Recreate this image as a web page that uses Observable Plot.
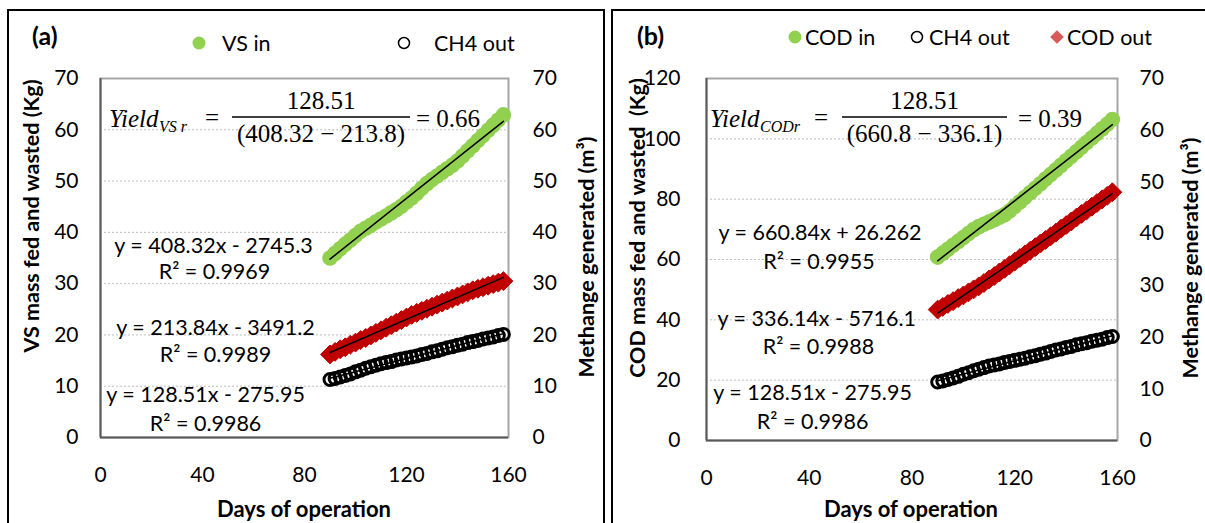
<!DOCTYPE html>
<html><head><meta charset="utf-8">
<script src="https://cdn.jsdelivr.net/npm/d3@7"></script>
<script src="https://cdn.jsdelivr.net/npm/@observablehq/plot@0.6"></script>
<style>
html,body{margin:0;padding:0;background:#fff;}
#wrap{position:relative;width:1205px;height:523px;overflow:hidden;background:#fff;}
.panel{position:absolute;top:0;width:600px;height:523px;}
.border{position:absolute;border:2px solid #000;box-sizing:border-box;pointer-events:none;}
</style></head><body>
<div id="wrap">
 <div class="panel" id="pa" style="left:0"></div>
 <div class="panel" id="pb" style="left:605px"></div>
 <div class="border" style="left:7px;top:9px;width:598px;height:600px"></div>
 <div class="border" style="left:611px;top:9px;width:700px;height:600px"></div>
</div>
<script>
// ---- data ----
const days = [90,92,94,96,98,100,102,104,106,108,110,112,114,116,118,120,122,124,126,128,130,132,134,136,138,140,142,144,146,148,150,152,154,156,158];
const vsIn  = [35.0,35.9,36.8,37.7,38.5,39.4,40.2,40.8,41.4,42.0,42.6,43.2,43.8,44.4,45.1,45.9,46.7,47.6,48.6,49.5,50.3,51.0,51.7,52.4,53.1,53.9,54.9,55.9,56.9,57.9,58.9,59.9,60.9,61.9,62.9];
const vsOut = [16.2,16.7,17.2,17.6,18.1,18.5,19.0,19.4,19.9,20.4,20.9,21.4,21.9,22.4,22.9,23.4,23.9,24.3,24.7,25.1,25.5,25.9,26.3,26.7,27.1,27.5,27.9,28.3,28.7,29.0,29.3,29.6,29.9,30.2,30.5];
const ch4Out = [11.3,11.5,11.8,12.1,12.4,12.8,13.1,13.5,13.8,14.1,14.4,14.6,14.8,15.1,15.3,15.5,15.7,15.9,16.2,16.4,16.7,16.9,17.2,17.5,17.7,18.0,18.2,18.5,18.7,18.9,19.2,19.4,19.6,19.9,20.1];
const codIn = [60.8,62.1,63.4,64.7,66.0,67.3,68.6,69.9,70.9,71.7,72.4,73.2,74.0,74.8,76.1,77.6,79.1,80.6,82.1,83.6,85.1,86.7,88.2,89.7,91.2,92.7,94.2,95.7,97.2,98.8,100.3,101.8,103.3,104.8,106.4];
const codOut = [43.4,44.3,45.3,46.2,47.2,48.1,49.1,50.1,51.1,52.2,53.4,54.5,55.7,56.9,58.1,59.3,60.5,61.7,62.9,64.1,65.3,66.5,67.7,68.9,70.2,71.4,72.6,73.9,75.1,76.3,77.5,78.7,79.9,81.1,82.3];

const xTicks = [0,40,80,120,160];
const yTicksA = [0,10,20,30,40,50,60,70];
const yTicksB = [0,20,40,60,80,100,120];
const yTicksRight = [0,10,20,30,40,50,60,70];

const eqA = ["y = 408.32x - 2745.3","R² = 0.9969","y = 213.84x - 3491.2","R² = 0.9989","y = 128.51x - 275.95","R² = 0.9986"];
const eqB = ["y = 660.84x + 26.262","R² = 0.9955","y = 336.14x - 5716.1","R² = 0.9988","y = 128.51x - 275.95","R² = 0.9986"];

const SANS = "Lato, sans-serif";
const SERIF = "'Liberation Serif', serif";
const GREEN = "#92D050", RED = "#C00000";

const rows = arr => days.map((d,i)=>({day:d, v:arr[i]}));

function decor(cfg){
  return () => {
    const g = d3.create("svg:g");
    const t = (x,y,s,o={}) => {
      const e = g.append("text").attr("x",x).attr("y",y).attr("dy","0.35em")
        .attr("font-family",o.family||SANS).attr("font-size",o.size||21)
        .attr("text-anchor",o.anchor||"start").attr("fill","#000").text(s);
      if(o.bold) e.attr("font-weight","bold");
      if(o.italic) e.attr("font-style","italic");
      if(o.rotate) e.attr("transform",`rotate(-90,${x},${y})`);
      return e;
    };
    // panel letter
    t(cfg.letter[0], 36, cfg.letter[1], {bold:true, size:25});
    // legend
    for(const L of cfg.legend){
      if(L.kind==="dot") g.append("circle").attr("cx",L.x).attr("cy",L.y).attr("r",6.5).attr("fill",GREEN);
      if(L.kind==="ring") g.append("circle").attr("cx",L.x).attr("cy",L.y).attr("r",5.5).attr("fill","none").attr("stroke","#000").attr("stroke-width",1.5);
      if(L.kind==="diamond") g.append("path").attr("d",d3.symbol(d3.symbolDiamond2, 120)()).attr("transform",`translate(${L.x},${L.y})`).attr("fill","#d65a5a");
      t(L.tx, L.y, L.label, {size:21.5});
    }
    // axis titles
    t(cfg.leftTitle[0], cfg.leftTitle[1], cfg.leftTitle[2], {bold:true, size:21.5, anchor:"middle", rotate:true});
    t(cfg.rightTitle[0], cfg.rightTitle[1], "Methange generated (m³)", {bold:true, size:21.5, anchor:"middle", rotate:true});
    t(cfg.xTitle, 509, "Days of operation", {bold:true, size:22, anchor:"middle"});
    // yield formula
    const f = cfg.formula;
    t(f.x0, 118, "Yield", {family:SERIF, italic:true, size:25});
    t(f.x0+50, 126, f.sub, {family:SERIF, italic:true, size:16});
    t(f.eq, 117, "=", {family:SERIF, size:25});
    g.append("line").attr("x1",f.b0).attr("x2",f.b1).attr("y1",117).attr("y2",117).attr("stroke","#000").attr("stroke-width",1.6);
    t((f.b0+f.b1)/2, 100, "128.51", {family:SERIF, size:25, anchor:"middle"});
    t((f.b0+f.b1)/2, 133, f.den, {family:SERIF, size:25, anchor:"middle"});
    t(f.res, 118, f.result, {family:SERIF, size:25});
    return g.node();
  };
}

function makePanel(o){
  const sc = o.rightScale;
  const ch4 = rows(ch4Out).map(d=>({day:d.day, v:d.v*sc}));
  return Plot.plot({
    width: 600, height: 523,
    marginLeft: o.ml, marginRight: o.mr, marginTop: 78, marginBottom: o.mb,
    x: {domain:[0,160]},
    y: {domain:o.yDomain},
    style: {fontFamily: SANS, fontSize: "21px", color:"#000", background:"transparent", overflow:"visible"},
    marks: [
      Plot.gridY(o.yTicks.filter(d=>d>0 && d<o.yDomain[1]), {stroke:"#bdbdbd", strokeOpacity:1, strokeDasharray:"2,2"}),
      Plot.frame({stroke:"#a6a6a6", strokeWidth:2}),
      Plot.ruleX([0], {stroke:"#5a5a5a", strokeWidth:2}),
      Plot.ruleY([0], {stroke:"#5a5a5a", strokeWidth:2}),
      Plot.axisX({ticks:xTicks, tickSize:0, tickPadding:30, label:null}),
      Plot.axisY({anchor:"left", ticks:o.yTicks, tickSize:0, tickPadding:o.lp, label:null}),
      Plot.axisY({anchor:"right", ticks:yTicksRight.map(d=>d*sc), tickFormat:d=>String(Math.round(d/sc)), tickSize:0, tickPadding:o.rp, label:null}),
      Plot.dot(rows(o.out), {x:"day", y:"v", symbol:"diamond2", r:8.5, fill:RED, stroke:RED, strokeWidth:1}),
      Plot.dot(ch4, {x:"day", y:"v", r:6, fill:"none", stroke:"#000", strokeWidth:3}),
      Plot.dot(rows(o.inn), {x:"day", y:"v", r:7.8, fill:GREEN}),
      Plot.linearRegressionY(rows(o.inn), {x:"day", y:"v", stroke:"#000", strokeWidth:1.5, ci:0}),
      Plot.linearRegressionY(rows(o.out), {x:"day", y:"v", stroke:"#000", strokeWidth:1.5, ci:0}),
      Plot.linearRegressionY(ch4, {x:"day", y:"v", stroke:"#000", strokeWidth:1.5, ci:0}),
      Plot.text(o.eq, {x:(d,i)=>o.eqPos[i][0], y:(d,i)=>o.eqPos[i][1], text:d=>d, fontSize:21.5, fill:"#000"}),
      decor(o.decor)
    ]
  });
}

document.getElementById("pa").append(makePanel({
  ml:100, mr:92, mb:86, yDomain:[0,70], yTicks:yTicksA, lp:22, rp:24, rightScale:1,
  inn:vsIn, out:vsOut, eq:eqA,
  eqPos:[[44.3,37.4],[44.7,32.2],[45.1,21.4],[45.1,16.0],[41.2,8.2],[41.2,2.7]],
  decor:{
    letter:[32,"(a)"],
    legend:[{kind:"dot",x:199,y:43,tx:222,label:"VS in"},{kind:"ring",x:404,y:43,tx:434,label:"CH4 out"}],
    leftTitle:[31,216,"VS mass fed and wasted (Kg)"], rightTitle:[586,257], xTitle:304,
    formula:{x0:109, sub:"VS r", eq:205, b0:232, b1:410, den:"(408.32 − 213.8)", res:416, result:"= 0.66"}
  }
}));

document.getElementById("pb").append(makePanel({
  ml:101, mr:88, mb:83, yDomain:[0,120], yTicks:yTicksB, lp:26, rp:22, rightScale:120/70,
  inn:codIn, out:codOut, eq:eqB,
  eqPos:[[44.2,68.6],[43.8,59.0],[42.9,40.1],[43.6,30.8],[41.3,15.6],[41.3,6.0]],
  decor:{
    letter:[32,"(b)"],
    legend:[{kind:"dot",x:190,y:37,tx:200,label:"COD in"},{kind:"ring",x:312,y:37,tx:324,label:"CH4 out"},{kind:"diamond",x:452,y:37,tx:462,label:"COD out"}],
    leftTitle:[32,228,"COD mass fed and wasted  (Kg)"], rightTitle:[585,258], xTitle:306,
    formula:{x0:105, sub:"CODr", eq:209, b0:237, b1:402, den:"(660.8 − 336.1)", res:413, result:"= 0.39"}
  }
}));
</script>
</body></html>
